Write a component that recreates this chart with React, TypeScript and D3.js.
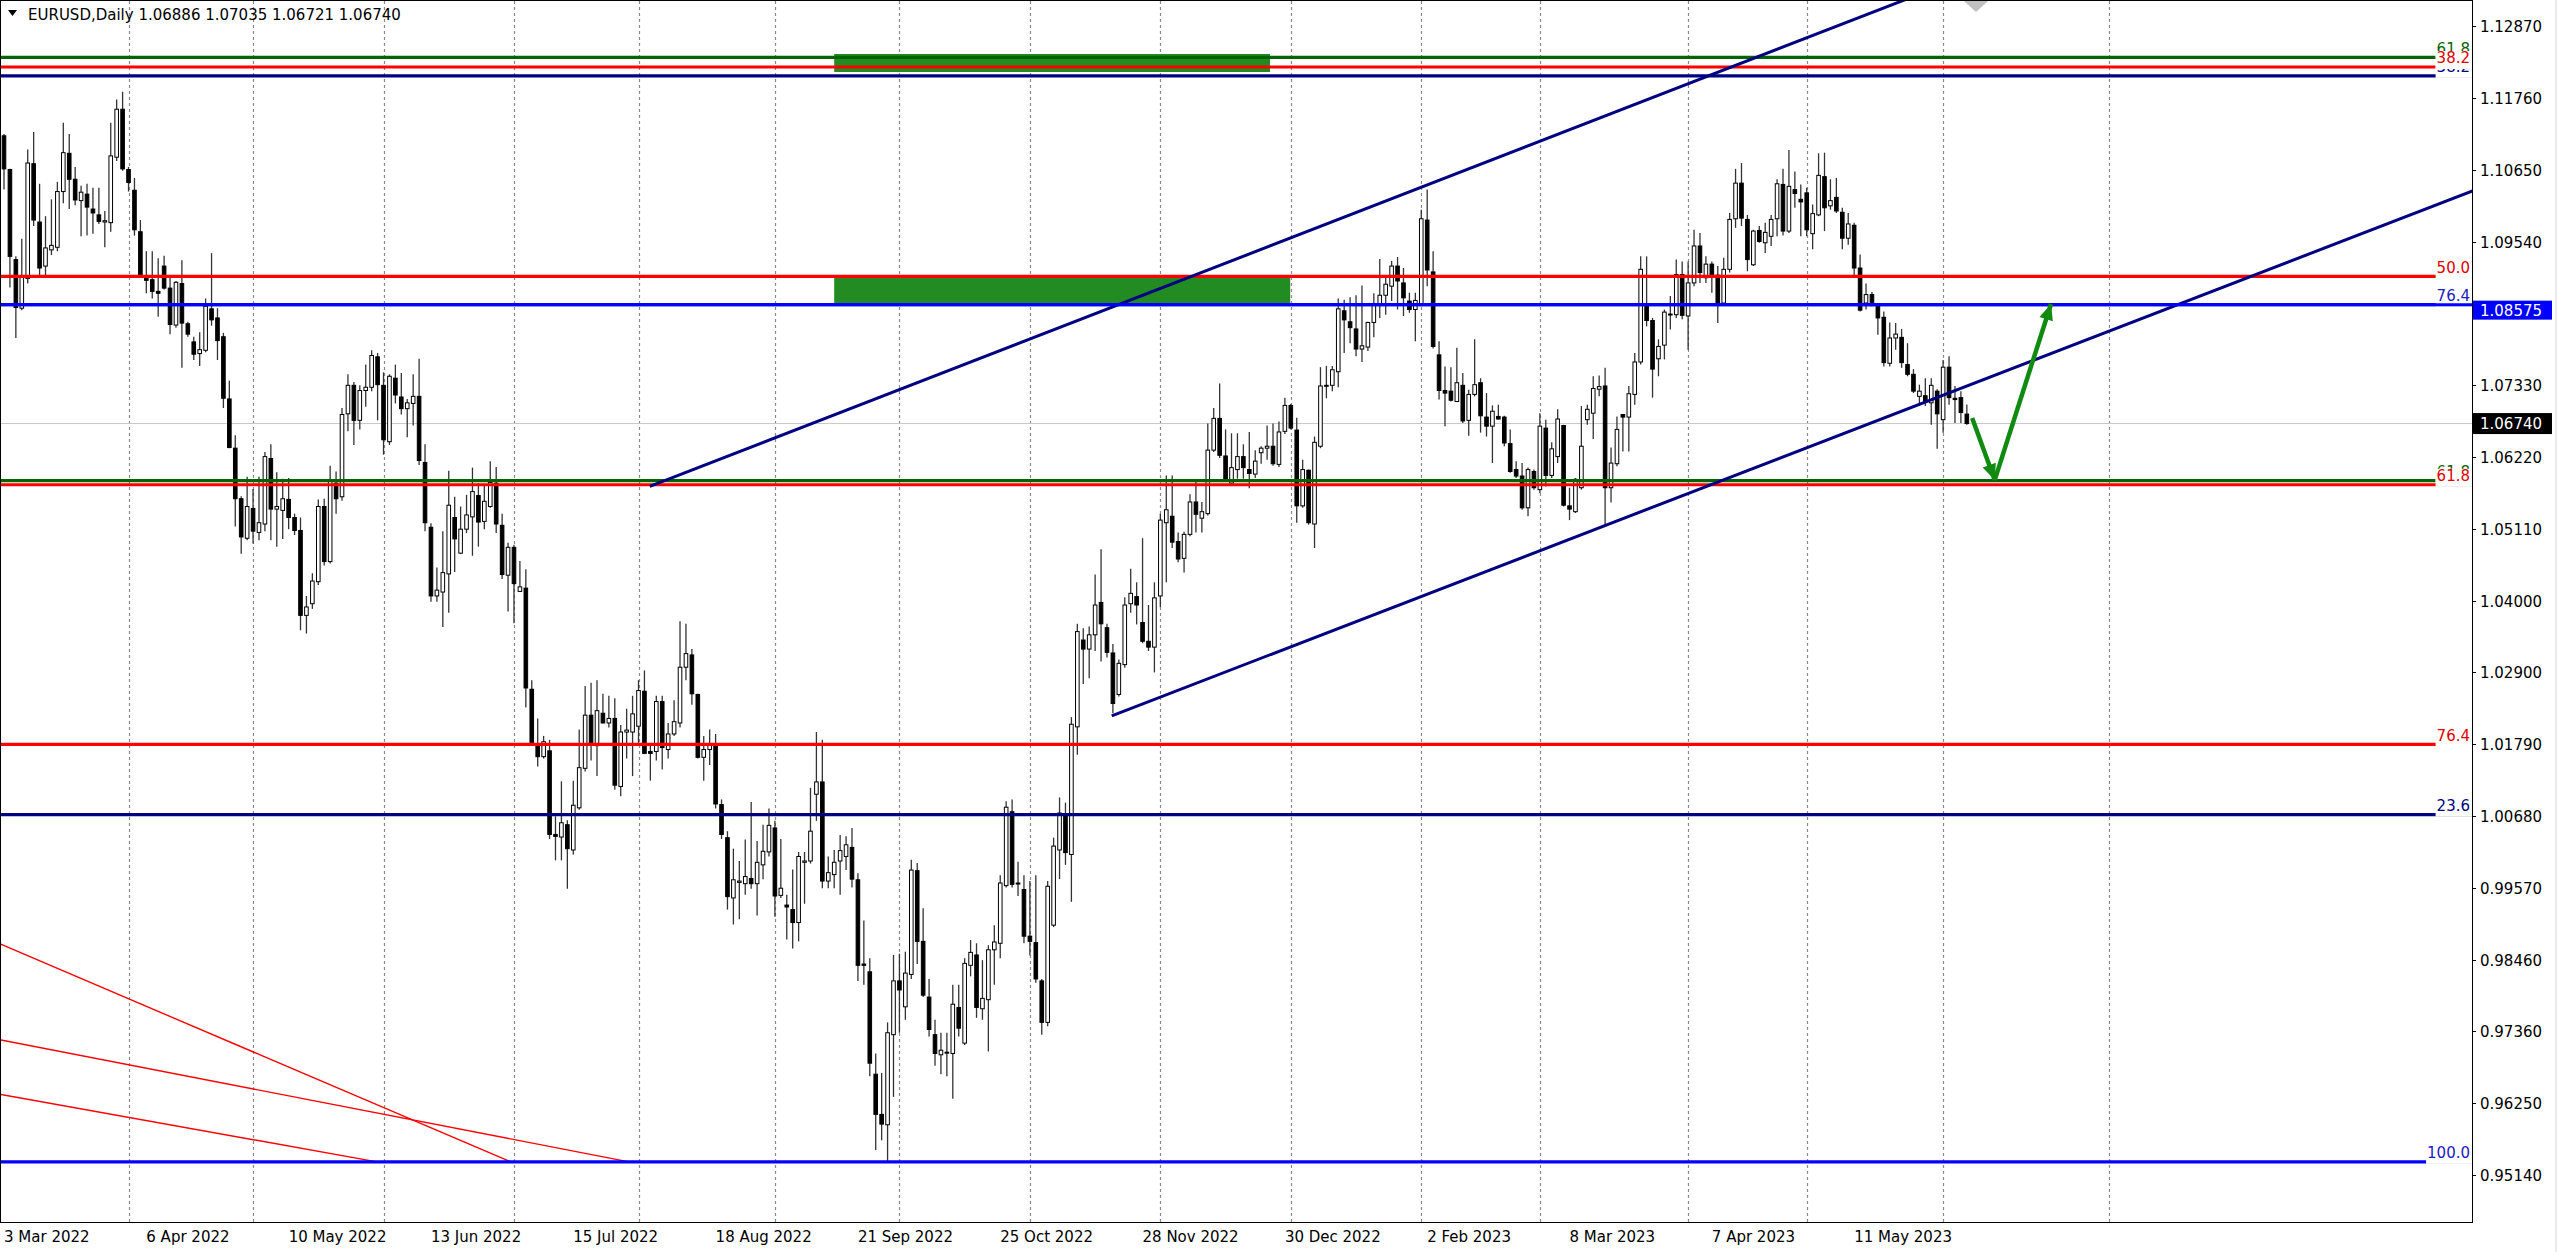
import React from "react";
import * as d3 from "d3";

// ---------------- DATA ----------------
const HEADER_SYMBOL = "EURUSD,Daily";
const HEADER_QUOTE = [1.06886, 1.07035, 1.06721, 1.0674];

// daily candles, bar 0 = 3 Mar 2022
const OPEN = [
  1.1118, 1.1066, 1.0927, 1.0852, 1.0898, 1.1075, 1.0985, 1.0917, 1.0942, 1.0946,
  1.1032, 1.1091, 1.1051, 1.1018, 1.1028, 1.1005, 1.0996, 1.0985, 1.0984, 1.1085,
  1.1159, 1.1066, 1.1034, 1.097, 1.0902, 1.0896, 1.0878, 1.0917, 1.0883, 1.0826,
  1.089, 1.0828, 1.08, 1.0782, 1.0787, 1.0851, 1.0837, 1.0808, 1.0712, 1.0636,
  1.0558, 1.0497, 1.0543, 1.0506, 1.0519, 1.062, 1.0542, 1.054, 1.0557, 1.0529,
  1.0509, 1.0378, 1.0396, 1.043, 1.0546, 1.0461, 1.0582, 1.0561, 1.0689, 1.0733,
  1.0679, 1.0725, 1.073, 1.0777, 1.0733, 1.0646, 1.0744, 1.0715, 1.0697, 1.0705,
  1.0716, 1.0614, 1.0514, 1.0408, 1.0414, 1.0442, 1.0529, 1.0474, 1.0511, 1.053,
  1.0563, 1.0523, 1.0546, 1.0582, 1.0517, 1.044, 1.0483, 1.0415, 1.042, 1.0264,
  1.018, 1.016, 1.0169, 1.004, 1.0036, 1.0055, 1.0016, 1.0081, 1.0142, 1.0224,
  1.0177, 1.0227, 1.0212, 1.0219, 1.0114, 1.0198, 1.0198, 1.0207, 1.0261, 1.0168,
  1.0168, 1.0245, 1.0171, 1.0195, 1.0212, 1.0298, 1.0317, 1.0256, 1.0159, 1.0171,
  1.0178, 1.0086, 1.0035, 0.9942, 0.9966, 0.9964, 0.9972, 0.9964, 0.9993, 1.0013,
  1.005, 0.9946, 0.9931, 0.9924, 0.9904, 0.9997, 0.9999, 1.0102, 1.0121, 0.9968,
  0.9978, 0.9999, 1.0006, 1.002, 0.997, 0.984, 0.9828, 0.967, 0.9608, 0.9592,
  0.9731, 0.9814, 0.9774, 0.9824, 0.9984, 0.9875, 0.9789, 0.9731, 0.97, 0.9704,
  0.9702, 0.9773, 0.9718, 0.9838, 0.9854, 0.9771, 0.9785, 0.9862, 0.9872, 0.9961,
  1.0075, 0.9965, 0.9955, 0.9883, 0.9873, 0.9814, 0.975, 0.99, 1.0016, 1.0072,
  1.0009, 1.0206, 1.034, 1.0326, 1.0348, 1.0398, 1.0359, 1.032, 1.0256, 1.0302,
  1.0396, 1.0407, 1.0367, 1.0338, 1.0329, 1.0408, 1.0521, 1.0531, 1.0492, 1.0466,
  1.0503, 1.0553, 1.0528, 1.0535, 1.0633, 1.0682, 1.0624, 1.0582, 1.0603, 1.0623,
  1.0603, 1.0596, 1.0629, 1.0636, 1.0639, 1.0611, 1.0662, 1.0702, 1.0664, 1.0547,
  1.0602, 1.0519, 1.0639, 1.0732, 1.0733, 1.0754, 1.0848, 1.0831, 1.082, 1.0789,
  1.0792, 1.083, 1.0859, 1.0872, 1.0886, 1.0917, 1.0891, 1.0863, 1.085, 1.0858,
  1.0988, 1.0908, 1.078, 1.0725, 1.0724, 1.0708, 1.0733, 1.0679, 1.0719, 1.0737,
  1.0684, 1.067, 1.0685, 1.0684, 1.0643, 1.0603, 1.0593, 1.0544, 1.06, 1.0572,
  1.0667, 1.0594, 1.0623, 1.0671, 1.0547, 1.0538, 1.0575, 1.068, 1.069, 1.0727,
  1.0732, 1.0575, 1.0612, 1.0688, 1.0684, 1.0719, 1.0769, 1.0859, 1.0833, 1.0774,
  1.0795, 1.0842, 1.0842, 1.0904, 1.084, 1.0891, 1.0948, 1.0899, 1.092, 1.0903,
  1.086, 1.0912, 1.099, 1.1045, 1.0989, 1.0919, 1.0972, 1.0953, 1.0963, 1.099,
  1.1043, 1.0971, 1.1035, 1.102, 1.103, 1.0967, 1.0996, 1.1055, 1.101, 1.1023,
  1.1, 1.096, 1.098, 1.0914, 1.086, 1.0873, 1.0856, 1.0838, 1.0767, 1.0806,
  1.0807, 1.0765, 1.075, 1.0716, 1.0717, 1.0706, 1.0724, 1.068, 1.0761, 1.0713, 1.0714, 1.06886,
];
const HIGH = [
  1.1121, 1.1067, 1.0932, 1.0959, 1.1097, 1.1124, 1.1044, 1.0994, 1.102, 1.1047,
  1.1138, 1.1121, 1.107, 1.1041, 1.1044, 1.1038, 1.1038, 1.1002, 1.1138, 1.1174,
  1.1186, 1.107, 1.1053, 1.0988, 1.094, 1.094, 1.0929, 1.0933, 1.0902, 1.0894,
  1.0926, 1.0831, 1.0808, 1.0815, 1.0867, 1.0937, 1.0852, 1.0814, 1.074, 1.0656,
  1.0562, 1.0592, 1.0573, 1.0592, 1.063, 1.0642, 1.0599, 1.0589, 1.059, 1.0535,
  1.0529, 1.0408, 1.0443, 1.0557, 1.0558, 1.0609, 1.06, 1.0698, 1.075, 1.0738,
  1.0733, 1.0765, 1.0787, 1.0783, 1.0753, 1.075, 1.0765, 1.0752, 1.0712, 1.075,
  1.0774, 1.0642, 1.052, 1.0452, 1.0508, 1.0601, 1.0561, 1.0546, 1.0564, 1.0606,
  1.0582, 1.058, 1.0616, 1.0607, 1.0535, 1.049, 1.0487, 1.0462, 1.0449, 1.0278,
  1.0219, 1.0192, 1.0186, 1.0068, 1.0122, 1.0062, 1.0123, 1.0202, 1.0269, 1.0274,
  1.0278, 1.0257, 1.0254, 1.025, 1.0209, 1.0234, 1.0254, 1.0278, 1.0293, 1.0181,
  1.0254, 1.0254, 1.0212, 1.0247, 1.0369, 1.0365, 1.0326, 1.0257, 1.0192, 1.0202,
  1.0195, 1.0094, 1.0045, 1.0018, 0.9999, 1.0032, 1.009, 1.003, 1.0055, 1.008,
  1.0061, 1.0033, 0.9947, 0.9986, 1.0013, 1.0013, 1.0112, 1.0198, 1.0186, 1.0006,
  1.0016, 1.0039, 1.0037, 1.005, 0.998, 0.9907, 0.9849, 0.9702, 0.9672, 0.975,
  0.9854, 0.9856, 0.9859, 1.0001, 0.9996, 0.9926, 0.9817, 0.9754, 0.9734, 0.9734,
  0.9808, 0.9808, 0.9849, 0.9877, 0.9872, 0.9846, 0.9869, 0.99, 0.9977, 1.0091,
  1.0094, 0.9998, 0.9977, 0.9968, 0.9977, 0.9817, 0.9968, 1.0035, 1.0097, 1.0089,
  1.0221, 1.0365, 1.0358, 1.0361, 1.0441, 1.048, 1.0365, 1.0334, 1.031, 1.0406,
  1.045, 1.0429, 1.0497, 1.0394, 1.0429, 1.0535, 1.0594, 1.0594, 1.0506, 1.0507,
  1.0565, 1.0586, 1.0553, 1.0674, 1.0698, 1.0736, 1.0665, 1.0659, 1.0659, 1.0642,
  1.0661, 1.0633, 1.0639, 1.0671, 1.0674, 1.0677, 1.0714, 1.0704, 1.0683, 1.0618,
  1.0603, 1.0654, 1.0761, 1.0763, 1.0763, 1.0867, 1.0865, 1.0869, 1.0872, 1.0887,
  1.0831, 1.0875, 1.0928, 1.0902, 1.0925, 1.0931, 1.0914, 1.0876, 1.0876, 1.1004,
  1.1035, 1.094, 1.0801, 1.0762, 1.0761, 1.0791, 1.0752, 1.0726, 1.0804, 1.0744,
  1.0721, 1.0702, 1.0703, 1.0686, 1.0665, 1.0616, 1.0613, 1.0606, 1.0603, 1.069,
  1.068, 1.0645, 1.0696, 1.0672, 1.0575, 1.059, 1.0701, 1.0703, 1.0747, 1.0748,
  1.076, 1.0637, 1.0685, 1.0688, 1.0732, 1.0783, 1.0932, 1.0932, 1.0837, 1.0804,
  1.085, 1.0871, 1.0927, 1.0924, 1.0924, 1.0973, 1.0968, 1.0932, 1.0924, 1.0917,
  1.093, 1.0999, 1.1067, 1.1076, 1.0996, 1.0973, 1.0979, 1.0984, 1.0996, 1.1051,
  1.1067, 1.1096, 1.1063, 1.1043, 1.1038, 1.1012, 1.1091, 1.1092, 1.1051, 1.1053,
  1.1007, 1.0999, 1.0984, 1.0935, 1.089, 1.0877, 1.086, 1.0847, 1.083, 1.0829,
  1.082, 1.0798, 1.0758, 1.0734, 1.0744, 1.0744, 1.0727, 1.0772, 1.0778, 1.0732, 1.0724, 1.07035,
];
const LOW = [
  1.1035, 1.0884, 1.0806, 1.0849, 1.089, 1.0979, 1.0902, 1.0902, 1.0934, 1.094,
  1.1014, 1.1005, 1.1011, 1.0963, 1.0964, 1.0967, 1.0982, 1.0946, 1.097, 1.1079,
  1.1064, 1.1032, 1.0964, 1.0899, 1.0875, 1.0867, 1.0839, 1.0881, 1.0812, 1.0822,
  1.076, 1.0808, 1.0772, 1.0763, 1.0784, 1.0825, 1.0772, 1.0698, 1.0636, 1.0515,
  1.0473, 1.0494, 1.0489, 1.0494, 1.0508, 1.0494, 1.0484, 1.0496, 1.0511, 1.0502,
  1.0355, 1.035, 1.0388, 1.0425, 1.0455, 1.0458, 1.0535, 1.0555, 1.0662, 1.0641,
  1.0665, 1.07, 1.0724, 1.0679, 1.0626, 1.0641, 1.0705, 1.0688, 1.0653, 1.0671,
  1.061, 1.0508, 1.0399, 1.0399, 1.036, 1.0382, 1.0445, 1.0473, 1.0505, 1.047,
  1.0484, 1.0511, 1.0544, 1.0505, 1.0434, 1.0384, 1.0366, 1.0414, 1.0236, 1.0177,
  1.0145, 1.0157, 1.0033, 1.0, 1.0, 0.9956, 1.0009, 1.0078, 1.0137, 1.0154,
  1.013, 1.0211, 1.0205, 1.0109, 1.0099, 1.0157, 1.013, 1.0181, 1.0164, 1.0123,
  1.0154, 1.014, 1.0157, 1.0192, 1.0205, 1.0278, 1.024, 1.0157, 1.0123, 1.0147,
  1.008, 1.0033, 0.9924, 0.9901, 0.9909, 0.9947, 0.9956, 0.9915, 0.9971, 1.0006,
  0.9913, 0.9942, 0.9878, 0.9864, 0.9875, 0.9933, 0.9995, 1.0061, 0.9957, 0.9957,
  0.9957, 0.9947, 0.9985, 0.9958, 0.9814, 0.9808, 0.9667, 0.9553, 0.9568, 0.9536,
  0.9635, 0.9734, 0.9754, 0.9817, 0.984, 0.9789, 0.9728, 0.9683, 0.967, 0.9667,
  0.9632, 0.9728, 0.9715, 0.9821, 0.9757, 0.9754, 0.9705, 0.9808, 0.9849, 0.9958,
  0.9958, 0.9945, 0.9872, 0.9853, 0.9811, 0.9731, 0.9744, 0.9897, 0.9971, 0.9993,
  0.9936, 1.0163, 1.0272, 1.0281, 1.0323, 1.0307, 1.0313, 1.0227, 1.0253, 1.0297,
  1.0382, 1.0364, 1.0335, 1.0323, 1.029, 1.0391, 1.0429, 1.0482, 1.046, 1.0444,
  1.05, 1.0506, 1.0506, 1.0532, 1.063, 1.0621, 1.0586, 1.058, 1.0589, 1.0589,
  1.0574, 1.059, 1.0612, 1.0618, 1.0609, 1.0607, 1.0658, 1.0665, 1.0521, 1.0544,
  1.0518, 1.0482, 1.0636, 1.0713, 1.0724, 1.073, 1.0783, 1.0798, 1.0778, 1.0769,
  1.0786, 1.0807, 1.0837, 1.0842, 1.0863, 1.085, 1.084, 1.0845, 1.0801, 1.0855,
  1.0886, 1.079, 1.0711, 1.067, 1.0708, 1.0708, 1.0675, 1.0655, 1.0716, 1.066,
  1.0654, 1.0613, 1.068, 1.0639, 1.0598, 1.059, 1.0541, 1.0531, 1.0572, 1.0567,
  1.0577, 1.059, 1.0613, 1.0546, 1.0525, 1.0536, 1.0572, 1.0672, 1.065, 1.0716,
  1.0515, 1.0552, 1.0608, 1.0631, 1.0631, 1.0703, 1.0765, 1.0824, 1.0714, 1.0747,
  1.0773, 1.0819, 1.0837, 1.0835, 1.0788, 1.0886, 1.0891, 1.0891, 1.0876, 1.0829,
  1.0858, 1.0907, 1.0976, 1.0979, 1.0909, 1.0917, 1.0953, 1.0937, 1.0948, 1.0963,
  1.0964, 1.0968, 1.1007, 1.0963, 1.0963, 1.0943, 1.0994, 1.0971, 1.1004, 1.0999,
  1.0943, 1.095, 1.0901, 1.0847, 1.085, 1.0855, 1.0811, 1.0762, 1.0762, 1.0788,
  1.076, 1.0747, 1.0721, 1.0701, 1.0701, 1.0672, 1.0635, 1.066, 1.0703, 1.0675, 1.0675, 1.06721,
];
const CLOSE = [
  1.1067, 1.0932, 1.0853, 1.0902, 1.1076, 1.0988, 1.0914, 1.0945, 1.0949, 1.1032,
  1.1092, 1.1051, 1.1019, 1.1031, 1.1008, 1.0999, 1.0986, 1.0987, 1.1087, 1.1159,
  1.1067, 1.1046, 1.0973, 1.0903, 1.0895, 1.0878, 1.0875, 1.0883, 1.0827, 1.0892,
  1.0829, 1.0812, 1.0781, 1.0788, 1.0855, 1.0834, 1.0802, 1.0713, 1.0637, 1.0558,
  1.0499, 1.0546, 1.0508, 1.0521, 1.0623, 1.0542, 1.0546, 1.0558, 1.0529, 1.0509,
  1.0378, 1.0391, 1.0431, 1.0546, 1.0461, 1.0586, 1.0558, 1.0688, 1.0733, 1.0679,
  1.0725, 1.073, 1.0779, 1.0734, 1.0649, 1.0747, 1.0718, 1.0697, 1.0706, 1.0716,
  1.0617, 1.0521, 1.0408, 1.0417, 1.0444, 1.0548, 1.0496, 1.0511, 1.0533, 1.0569,
  1.0522, 1.0554, 1.0583, 1.0519, 1.0441, 1.0483, 1.0427, 1.0422, 1.0266, 1.0182,
  1.016, 1.0183, 1.004, 1.0037, 1.0058, 1.0018, 1.0085, 1.0143, 1.0224, 1.0181,
  1.0231, 1.0212, 1.0219, 1.0116, 1.0198, 1.0201, 1.0226, 1.0262, 1.0165, 1.0165,
  1.0245, 1.0174, 1.0195, 1.0214, 1.0298, 1.0319, 1.0257, 1.0159, 1.0171, 1.018,
  1.0087, 1.004, 0.9944, 0.997, 0.9968, 0.9975, 0.9964, 0.9997, 1.0014, 1.0054,
  0.9945, 0.9957, 0.9928, 0.9904, 1.0006, 0.9999, 1.0045, 1.0121, 0.9968, 0.9981,
  0.9997, 1.0015, 1.0024, 0.9971, 0.9838, 0.9838, 0.9687, 0.9608, 0.9593, 0.9734,
  0.9814, 0.98, 0.9826, 0.9985, 0.9875, 0.9792, 0.9739, 0.9702, 0.9707, 0.9703,
  0.9778, 0.9741, 0.9841, 0.9858, 0.9773, 0.9787, 0.9862, 0.9874, 0.9965, 1.0082,
  0.9963, 0.9964, 0.9883, 0.9875, 0.9817, 0.975, 0.996, 1.0022, 1.0073, 1.0012,
  1.021, 1.0353, 1.0326, 1.0348, 1.0394, 1.0365, 1.0321, 1.0242, 1.0304, 1.0394,
  1.0412, 1.0394, 1.0338, 1.0329, 1.0405, 1.0525, 1.0541, 1.0491, 1.0465, 1.0503,
  1.0553, 1.0534, 1.0538, 1.0633, 1.0682, 1.0625, 1.0589, 1.0606, 1.0623, 1.0606,
  1.0597, 1.0616, 1.0636, 1.0639, 1.0612, 1.0661, 1.0702, 1.0667, 1.0547, 1.0603,
  1.0521, 1.0645, 1.0732, 1.0733, 1.0757, 1.0851, 1.0834, 1.0822, 1.0789, 1.0794,
  1.083, 1.0857, 1.0872, 1.0889, 1.0917, 1.0894, 1.0868, 1.085, 1.0864, 1.099,
  1.0911, 1.0793, 1.0725, 1.0721, 1.071, 1.0737, 1.0678, 1.0719, 1.0734, 1.0686,
  1.067, 1.0693, 1.0681, 1.0644, 1.06, 1.0593, 1.0544, 1.0603, 1.0575, 1.067,
  1.0594, 1.0635, 1.0681, 1.0548, 1.0542, 1.0588, 1.0639, 1.0696, 1.0728, 1.0731,
  1.0575, 1.0613, 1.0665, 1.0684, 1.072, 1.0769, 1.0912, 1.0833, 1.0758, 1.0793,
  1.0846, 1.0843, 1.0904, 1.0841, 1.0891, 1.0948, 1.0907, 1.092, 1.0903, 1.086,
  1.0912, 1.0989, 1.1045, 1.0991, 1.0927, 1.0971, 1.0955, 1.0969, 1.0989, 1.1044,
  1.0971, 1.104, 1.1029, 1.1016, 1.0973, 1.0998, 1.1057, 1.1007, 1.1018, 1.1002,
  1.096, 1.0982, 1.0914, 1.0849, 1.0873, 1.0856, 1.0837, 1.0768, 1.0806, 1.0812,
  1.0768, 1.075, 1.0724, 1.0724, 1.0708, 1.0733, 1.0689, 1.0761, 1.0714, 1.0711, 1.0691, 1.0674,
];

// price axis
const PRICE_TICKS = [
  1.1287, 1.1176, 1.1065, 1.0954, 1.0733, 1.0622, 1.0511, 1.04, 1.029, 1.0179,
  1.0068, 0.9957, 0.9846, 0.9736, 0.9625, 0.9514,
];
// time axis
const DATE_LABELS = [
  "3 Mar 2022", "6 Apr 2022", "10 May 2022", "13 Jun 2022", "15 Jul 2022",
  "18 Aug 2022", "21 Sep 2022", "25 Oct 2022", "28 Nov 2022", "30 Dec 2022",
  "2 Feb 2023", "8 Mar 2023", "7 Apr 2023", "11 May 2023",
];
const DATE_LABEL_BARS = [0, 24, 48, 72, 96, 120, 144, 168, 192, 216, 240, 264, 288, 312];
const MONTH_GRID_BARS = [21, 42, 64, 86, 107, 130, 151, 173, 195, 217, 239, 259, 284, 304, 327, 355];

// horizontal line + price tags
const HLINE_PRICE = 1.08575;
const BID_PRICE = 1.0674;

// fibonacci level lines  [price, label]
const FIB_GREEN: [number, string][] = [[1.12389, "61.8"], [1.05858, "61.8"]];
const FIB_NAVY: [number, string][] = [[1.12105, "38.2"], [1.00707, "23.6"]];
const FIB_BLUE: [number, string][] = [[1.08575, "76.4"], [0.95347, "100.0"]];
const FIB_RED: [number, string][] = [[1.12242, "38.2"], [1.09012, "50.0"], [1.05796, "61.8"], [1.01791, "76.4"]];

// rectangles [bar1, bar2, price1, price2]
const RECTS: [number, number, number, number][] = [
  [140, 213.5, 1.12443, 1.12165],
  [140, 216.9, 1.09012, 1.08575],
];
// trend lines (rays) [bar, price] pairs
const CHANNEL_UPPER: [number, number][] = [[108.9, 1.0577], [300, 1.1255]];
const CHANNEL_LOWER: [number, number][] = [[186.8, 1.0223], [331, 1.0732]];
// thin red lines at bottom-left
const RED_SEGMENTS: [number, number, number, number][] = [
  [-0.67, 0.9871, 85.5, 0.95347],
  [-0.67, 0.9723, 105.4, 0.95347],
  [-0.67, 0.9639, 62.9, 0.95347],
];
// green forecast arrows
const ARROW_PATH: [number, number][] = [[331.9, 1.06825], [335.7, 1.05868], [345.2, 1.08585]];

// ---------------- LAYOUT ----------------
const W = 2560;
const H = 1252;
const PR = 2472; // plot right
const PB = 1222; // plot bottom
const FONT = "'DejaVu Sans', Verdana, sans-serif";
const FS = 15;

const RED = "#ff0000";
const GREEN = "#006400";
const NAVY = "#000080";
const BLUE = "#0000ff";

const xs = d3.scaleLinear().domain([0, 331]).range([4, 4 + 331 * 5.93]);
const ys = d3.scaleLinear().domain([0.9514, 1.1287]).range([1175.3, 26.3]);

function textW(s: string) {
  let w = 0;
  for (const ch of s) w += ch === "." ? 0.318 : 0.636;
  return w * FS;
}

function FibLabels({ levels, color }: { levels: [number, string][]; color: string }) {
  return (
    <g>
      {levels.map(([p, t], i) => {
        const y = ys(p);
        const w = textW(t);
        return (
          <g key={i}>
            <rect x={2470 - w - 1} y={y - 16} width={PR - (2470 - w - 1)} height={18} fill="#fff" />
            <text x={2470} y={y - 3.5} textAnchor="end" fill={color} fontSize={FS} fontFamily={FONT}>
              {t}
            </text>
          </g>
        );
      })}
    </g>
  );
}

function FibLines({ levels, color }: { levels: [number, string][]; color: string }) {
  return (
    <g>
      {levels.map(([p], i) => (
        <line key={i} x1={0} x2={PR} y1={ys(p)} y2={ys(p)} stroke={color} strokeWidth={3.2} />
      ))}
    </g>
  );
}

function ray(pts: [number, number][]) {
  const [a, b] = pts;
  const x1 = xs(a[0]), y1 = ys(a[1]), x2 = xs(b[0]), y2 = ys(b[1]);
  const k = (y2 - y1) / (x2 - x1);
  const xe = PR + 10;
  return { x1, y1, x2: xe, y2: y1 + k * (xe - x1) };
}

function arrowHead(x0: number, y0: number, x1: number, y1: number, len: number, half: number) {
  const ang = Math.atan2(y1 - y0, x1 - x0);
  const bx = x1 - len * Math.cos(ang), by = y1 - len * Math.sin(ang);
  const px = -Math.sin(ang) * half, py = Math.cos(ang) * half;
  return `${x1},${y1} ${bx + px},${by + py} ${bx - px},${by - py}`;
}

export default function App() {
  const up = ray(CHANNEL_UPPER);
  const lo = ray(CHANNEL_LOWER);
  const ap = ARROW_PATH.map(([b, p]) => [xs(b), ys(p)]);

  return (
    <svg
      width={W}
      height={H}
      viewBox={`0 0 ${W} ${H}`}
      style={{ position: "absolute", left: 0, top: 0, background: "#fff", display: "block" }}
    >
      <defs>
        <clipPath id="plot">
          <rect x={1} y={1} width={PR - 1} height={PB - 1} />
        </clipPath>
      </defs>
      <rect x={0} y={0} width={W} height={H} fill="#fff" />

      {/* month grid */}
      {MONTH_GRID_BARS.map((b, i) => {
        const x = Math.round(xs(b)) + 0.5;
        return <line key={i} x1={x} x2={x} y1={1} y2={PB} stroke="#8a8a8a" strokeWidth={1.2} strokeDasharray="3 3" />;
      })}

      <g clipPath="url(#plot)">
        {/* rectangles */}
        {RECTS.map(([b1, b2, p1, p2], i) => (
          <rect key={i} x={xs(b1)} y={ys(p1)} width={xs(b2) - xs(b1)} height={ys(p2) - ys(p1)} fill="#228b22" />
        ))}

        {/* bid line */}
        <line x1={0} x2={PR} y1={ys(BID_PRICE)} y2={ys(BID_PRICE)} stroke="#c8c8c8" strokeWidth={1} />

        {/* candles */}
        {OPEN.map((o, i) => {
          const c = CLOSE[i];
          const x = xs(i);
          const yt = ys(Math.max(o, c));
          const yb = ys(Math.min(o, c));
          const bull = c >= o;
          return (
            <g key={i}>
              <line x1={x} x2={x} y1={ys(HIGH[i])} y2={ys(LOW[i])} stroke="#333" strokeWidth={1.3} />
              <rect
                x={x - 1.8}
                y={yt}
                width={3.6}
                height={Math.max(1, yb - yt)}
                fill={bull ? "#fff" : "#000"}
                stroke="#000"
                strokeWidth={1}
              />
            </g>
          );
        })}

        {/* thin red lines */}
        {RED_SEGMENTS.map(([b1, p1, b2, p2], i) => (
          <line key={i} x1={xs(b1)} y1={ys(p1)} x2={xs(b2)} y2={ys(p2)} stroke={RED} strokeWidth={1.4} />
        ))}

        {/* fib lines */}
        <FibLines levels={FIB_GREEN} color={GREEN} />
        <FibLines levels={FIB_NAVY} color={NAVY} />
        <FibLines levels={FIB_BLUE} color={BLUE} />
        <FibLines levels={FIB_RED} color={RED} />

        {/* channel */}
        <line {...up} stroke={NAVY} strokeWidth={3} />
        <line {...lo} stroke={NAVY} strokeWidth={3} />

        {/* labels */}
        <FibLabels levels={FIB_GREEN} color={GREEN} />
        <FibLabels levels={FIB_NAVY} color={NAVY} />
        <FibLabels levels={FIB_BLUE} color="#2020c0" />
        <FibLabels levels={FIB_RED} color="#e00000" />

        {/* horizontal line */}
        <line x1={0} x2={PR} y1={ys(HLINE_PRICE)} y2={ys(HLINE_PRICE)} stroke={BLUE} strokeWidth={3} />

        {/* arrows */}
        <line x1={ap[0][0]} y1={ap[0][1]} x2={ap[1][0]} y2={ap[1][1]} stroke="#108a10" strokeWidth={4.5} />
        <line x1={ap[1][0]} y1={ap[1][1]} x2={ap[2][0]} y2={ap[2][1]} stroke="#108a10" strokeWidth={4.5} />
        <polygon points={arrowHead(ap[0][0], ap[0][1], ap[1][0], ap[1][1], 16, 7)} fill="#108a10" />
        <polygon points={arrowHead(ap[1][0], ap[1][1], ap[2][0], ap[2][1], 16, 7)} fill="#108a10" />

        {/* chart shift marker */}
        <polygon points="1964,1 1988,1 1976,12" fill="#c0c0c0" />
      </g>

      {/* header */}
      <polygon points="8,10 17,10 12.5,16" fill="#000" />
      <text x={28} y={20} fontSize={FS} fontFamily={FONT} fill="#000">
        {HEADER_SYMBOL + " " + HEADER_QUOTE.map((v) => v.toFixed(5)).join(" ")}
      </text>

      {/* frame */}
      <rect x={0.5} y={0.5} width={PR} height={PB} fill="none" stroke="#000" strokeWidth={1} />
      <line x1={2556} x2={2556} y1={0} y2={H} stroke="#d8d8d8" strokeWidth={1} />

      {/* price axis */}
      {PRICE_TICKS.map((p, i) => (
        <g key={i}>
          <line x1={PR} x2={PR + 4} y1={Math.round(ys(p)) + 0.5} y2={Math.round(ys(p)) + 0.5} stroke="#000" />
          <text x={2480} y={ys(p)} dy="0.36em" fontSize={FS} fontFamily={FONT} fill="#000">
            {p.toFixed(5)}
          </text>
        </g>
      ))}
      {/* tags */}
      <rect x={PR + 1} y={ys(HLINE_PRICE) - 4} width={79} height={19} fill={BLUE} />
      <text x={2480} y={ys(HLINE_PRICE) + 5.5} dy="0.36em" fontSize={FS} fontFamily={FONT} fill="#fff">
        {HLINE_PRICE.toFixed(5)}
      </text>
      <rect x={PR + 1} y={ys(BID_PRICE) - 10.5} width={79} height={21} fill="#000" />
      <text x={2480} y={ys(BID_PRICE)} dy="0.36em" fontSize={FS} fontFamily={FONT} fill="#fff">
        {BID_PRICE.toFixed(5)}
      </text>

      {/* time axis */}
      {DATE_LABELS.map((t, i) => (
        <text key={i} x={xs(DATE_LABEL_BARS[i])} y={1242} fontSize={FS} fontFamily={FONT} fill="#000">
          {t}
        </text>
      ))}
    </svg>
  );
}
